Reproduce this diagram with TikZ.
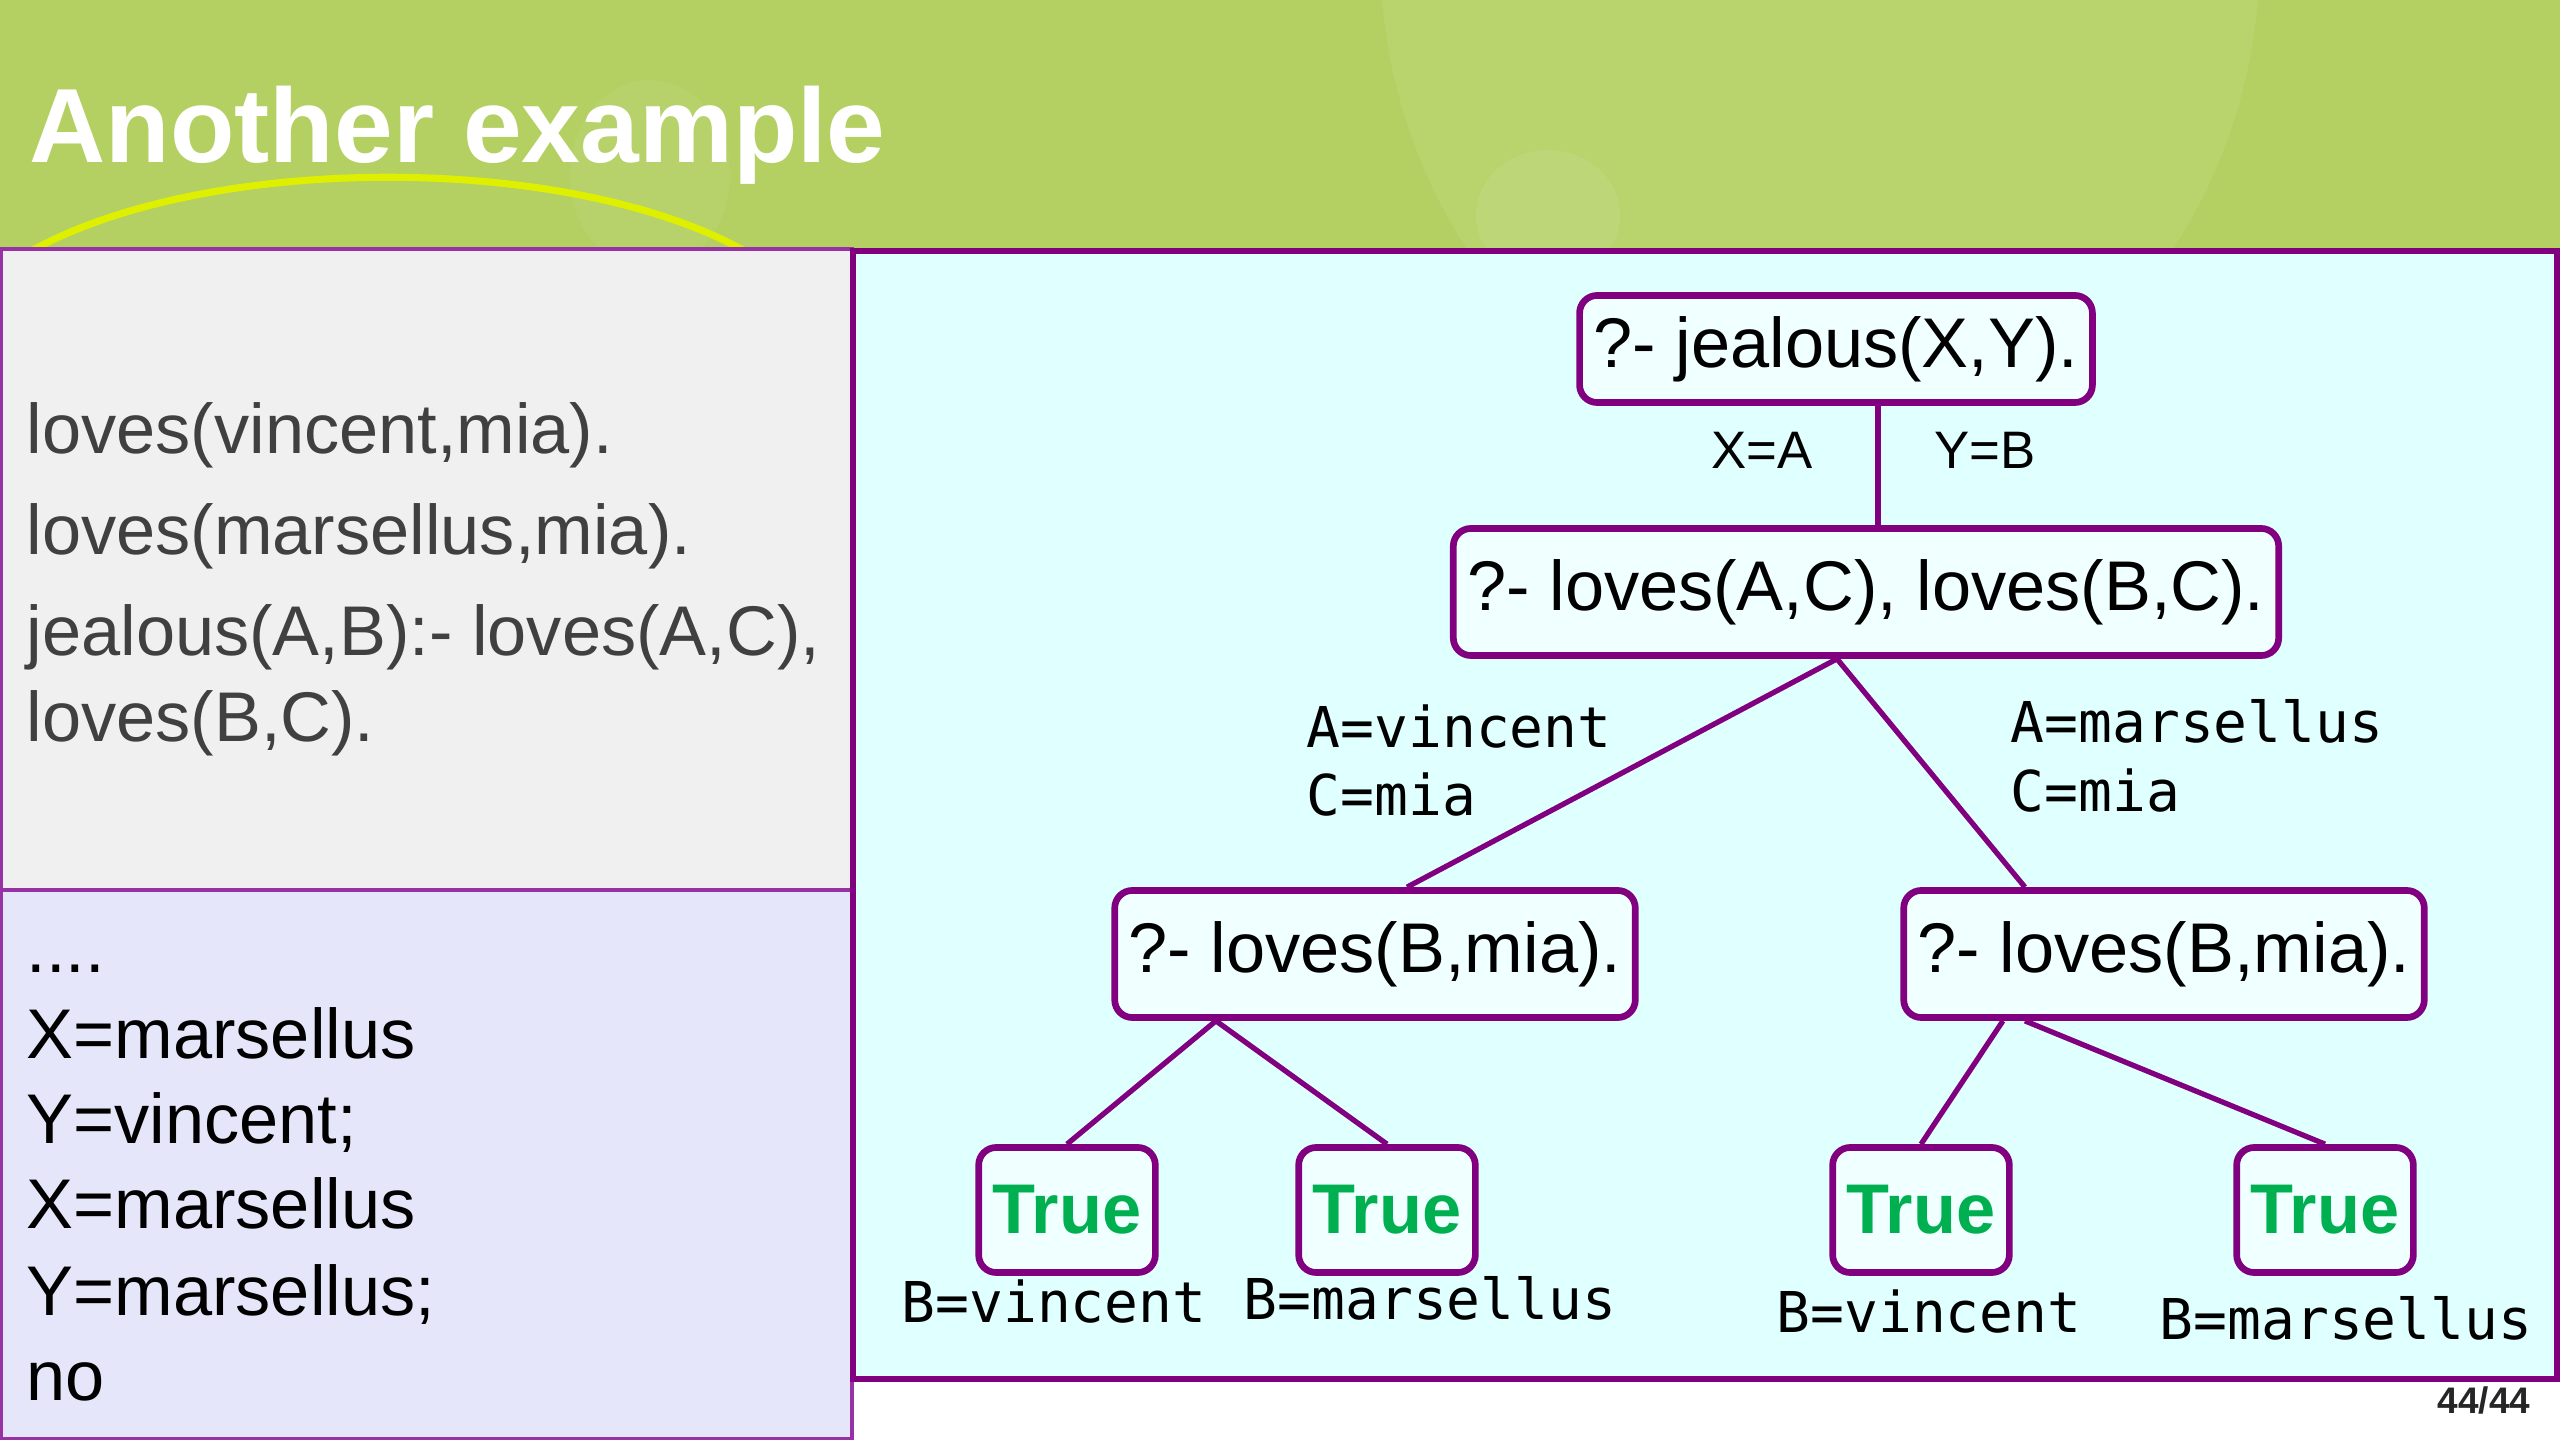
\documentclass[tikz,border=0pt]{standalone}
\usepackage{fontspec}
\setmainfont{Liberation Sans}
\newfontfamily\codefont{DejaVu Sans Mono}
\usepackage{tikz}
\usetikzlibrary{calc}
\definecolor{headgreen}{RGB}{180,208,98}
\definecolor{arcyellow}{RGB}{222,240,0}
\definecolor{nodepurple}{RGB}{128,0,128}
\definecolor{panelpurple}{RGB}{150,50,165}
\definecolor{factgray}{RGB}{240,240,240}
\definecolor{answerlav}{RGB}{230,230,250}
\definecolor{treecyan}{RGB}{224,255,255}
\definecolor{nodefill}{RGB}{240,255,255}
\definecolor{truegreen}{RGB}{0,176,80}
\definecolor{facttext}{RGB}{64,64,64}

\begin{document}
\begin{tikzpicture}[x=0.01cm, y=-0.01cm,
  qbox/.style={draw=nodepurple, line width=1.9pt, rounded corners=5pt,
    fill=nodefill, inner xsep=4pt, minimum height=1.27cm,
    font=\fontsize{20}{24}\selectfont},
  tbox/.style={qbox, minimum width=1.7cm, minimum height=1.25cm,
    text=truegreen, font=\fontsize{20}{24}\selectfont\bfseries},
  link/.style={nodepurple, line width=1.5pt},
  bind/.style={anchor=base, inner sep=0pt, font=\fontsize{15}{18}\selectfont},
  subst/.style={anchor=base west, inner sep=0pt,
    font=\codefont\fontsize{16}{19}\selectfont},
  leaf/.style={anchor=base, inner sep=0pt,
    font=\codefont\fontsize{16}{19}\selectfont},
  fact/.style={anchor=base west, inner sep=0pt, text=facttext,
    font=\fontsize{20}{24}\selectfont},
  answer/.style={anchor=base west, inner sep=0pt,
    font=\fontsize{20}{24}\selectfont}
]
  \useasboundingbox (0,0) rectangle (2560,1440);
  \fill[white] (0,0) rectangle (2560,1440);

  % Header band
  \fill[headgreen] (0,0) rectangle (2560,248);
  \begin{scope}
    \clip (0,0) rectangle (2560,248);
    \fill[white, opacity=0.07] (1820,-50) ellipse [x radius=4.4cm, y radius=5cm];
    \fill[white, opacity=0.07] (1548,215) ellipse [x radius=0.72cm, y radius=0.65cm];
    \fill[white, opacity=0.05] (650,175) ellipse [x radius=0.8cm, y radius=0.95cm];
    \draw[arcyellow, line width=2pt] (33,250) .. controls (210,153) and (566,153) .. (743,250);
  \end{scope}
  \node[anchor=base west, inner sep=0pt, text=white,
    font=\fontsize{30}{36}\selectfont\bfseries] (title) at (29,163) {Another example};

  % Panels
  \draw[panelpurple, line width=0.9pt, fill=factgray] (1,249) rectangle (852,890);
  \draw[panelpurple, line width=0.9pt, fill=answerlav] (1,890) rectangle (852,1439);
  \draw[nodepurple, line width=1.7pt, fill=treecyan] (853,251) rectangle (2557,1379);

  % Program
  \node[fact] (f1) at (26,454) {loves(vincent,mia).};
  \node[fact] (f2) at (26,555) {loves(marsellus,mia).};
  \node[fact] (f3) at (26,656) {jealous(A,B):- loves(A,C),};
  \node[fact] (f4) at (26,742) {loves(B,C).};

  % Answers
  \node[answer] (a0) at (26,972) {....};
  \node[answer] (a1) at (26,1058) {X=marsellus};
  \node[answer] (a2) at (26,1143) {Y=vincent;};
  \node[answer] (a3) at (26,1228) {X=marsellus};
  \node[answer] (a4) at (26,1315) {Y=marsellus;};
  \node[answer] (a5) at (26,1400) {no};

  % Search tree
  \node[qbox, minimum height=1.07cm] (root) at (1836,349) {?- jealous(X,Y).};
  \node[qbox] (conj) at (1866,592) {?- loves(A,C), loves(B,C).};
  \node[qbox] (lq) at (1375,954) {?- loves(B,mia).};
  \node[qbox] (rq) at (2164,954) {?- loves(B,mia).};
  \node[tbox] (t1) at (1067,1210) {True};
  \node[tbox] (t2) at (1387,1210) {True};
  \node[tbox] (t3) at (1921,1210) {True};
  \node[tbox] (t4) at (2325,1210) {True};

  \draw[link] ([xshift=0.42cm]root.south) -- ([xshift=0.42cm]root.south |- conj.north);
  \draw[link] ([xshift=-0.29cm]conj.south) -- ([xshift=0.32cm]lq.north);
  \draw[link] ([xshift=-0.29cm]conj.south) -- ([xshift=-1.39cm]rq.north);
  \draw[link] ([xshift=-1.59cm]lq.south) -- (t1.north);
  \draw[link] ([xshift=-1.59cm]lq.south) -- (t2.north);
  \draw[link] ([xshift=-1.61cm]rq.south) -- (t3.north);
  \draw[link] ([xshift=-1.39cm]rq.south) -- (t4.north);

  % Bindings
  \node[bind] (bx) at (1762,469) {X=A};
  \node[bind] (by) at (1985,469) {Y=B};
  \node[subst] (sl1) at (1306,748) {A=vincent};
  \node[subst] (sl2) at (1306,816) {C=mia};
  \node[subst] (sr1) at (2010,743) {A=marsellus};
  \node[subst] (sr2) at (2010,811) {C=mia};
  \node[leaf] (b1) at (1054,1322) {B=vincent};
  \node[leaf] (b2) at (1430,1319) {B=marsellus};
  \node[leaf] (b3) at (1929,1332) {B=vincent};
  \node[leaf] (b4) at (2346,1339) {B=marsellus};

  % Page number
  \node[anchor=base east, inner sep=0pt, text=black!85,
    font=\fontsize{10.5}{12}\selectfont\bfseries] (pageno) at (2531,1413) {44/44};
\end{tikzpicture}
\end{document}
